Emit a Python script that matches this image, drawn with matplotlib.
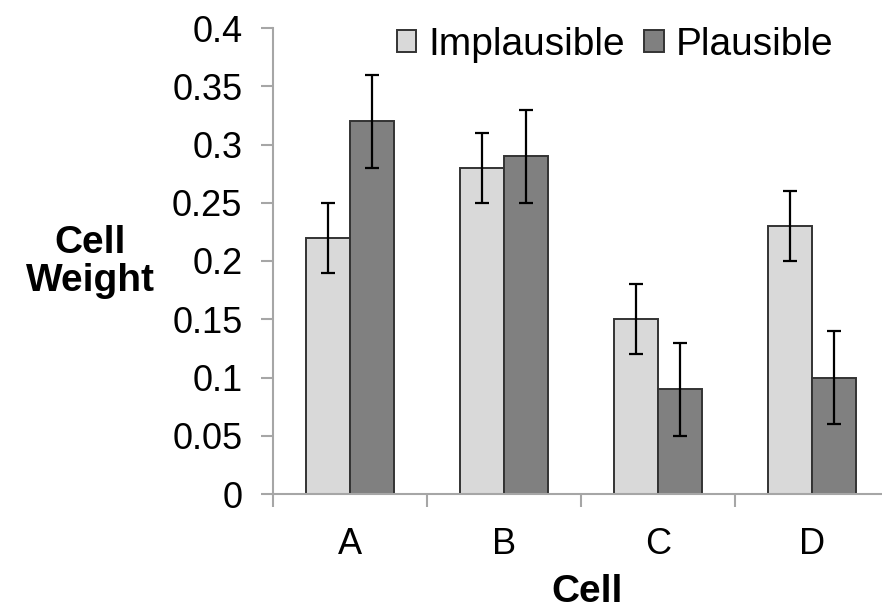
import numpy as np
import matplotlib
matplotlib.use("Agg")
from matplotlib import pyplot as plt

# data
cells = ["A", "B", "C", "D"]
implausible = [0.22, 0.28, 0.15, 0.23]
implausible_err = [0.03, 0.03, 0.03, 0.03]
plausible = [0.32, 0.29, 0.09, 0.10]
plausible_err = [0.04, 0.04, 0.04, 0.04]
y_ticks = [0, 0.05, 0.1, 0.15, 0.2, 0.25, 0.3, 0.35, 0.4]
y_tick_labels = ["0", "0.05", "0.1", "0.15", "0.2", "0.25", "0.3", "0.35", "0.4"]

plt.rcParams['font.family'] = ['Liberation Sans', 'DejaVu Sans']

W, H = 882, 611
fig = plt.figure(figsize=(W / 100, H / 100), dpi=100)
ax = fig.add_axes([273 / W, (H - 494) / H, 616 / W, (494 - 28) / H])

x = np.arange(len(cells))
bw = 0.286
axis_grey = "#a6a6a6"
err_kw = dict(ecolor="black", elinewidth=1.6, capsize=5, capthick=1.6)

ax.bar(x - bw / 2, implausible, bw, yerr=implausible_err, color="#d9d9d9",
       edgecolor="#333333", linewidth=1.4, label="Implausible", error_kw=err_kw, zorder=2)
ax.bar(x + bw / 2, plausible, bw, yerr=plausible_err, color="#808080",
       edgecolor="#333333", linewidth=1.4, label="Plausible", error_kw=err_kw, zorder=2)

ax.set_xlim(-0.5, 3.5)
ax.set_ylim(0, 0.4)
ax.set_yticks(y_ticks)
ax.set_yticklabels(y_tick_labels)
ax.set_xticks(x)
ax.set_xticklabels(cells)
ax.set_xticks(np.arange(-0.5, 4.0, 1.0), minor=True)

for s in ["top", "right"]:
    ax.spines[s].set_visible(False)
for s in ["left", "bottom"]:
    ax.spines[s].set_color(axis_grey)
    ax.spines[s].set_linewidth(1.5)
    ax.spines[s].set_clip_on(False)

ax.tick_params(axis="y", direction="out", length=9, width=1.5, color=axis_grey,
               labelsize=26, pad=13)
ax.tick_params(axis="x", which="major", length=0, labelsize=26, pad=24)
ax.tick_params(axis="x", which="minor", direction="out", length=9, width=1.5,
               color=axis_grey)

leg = ax.legend(ncol=2, frameon=False, loc="center left",
                bbox_to_anchor=(397 / W, (H - 45) / H), bbox_transform=fig.transFigure,
                fontsize=28, handlelength=0.5, handleheight=0.5, handletextpad=0.3,
                columnspacing=0.5, borderpad=0, borderaxespad=0)
for h in leg.legend_handles:
    h.set_linewidth(1.4)

fig.text(587 / W, (H - 592) / H, "Cell", ha="center", va="center",
         fontsize=28, fontweight="bold")
fig.text(90 / W, (H - 262) / H, "Cell\nWeight", ha="center", va="center",
         fontsize=28, fontweight="bold", multialignment="center", linespacing=1.05)

fig.savefig("out.png", dpi=100, facecolor="white")
